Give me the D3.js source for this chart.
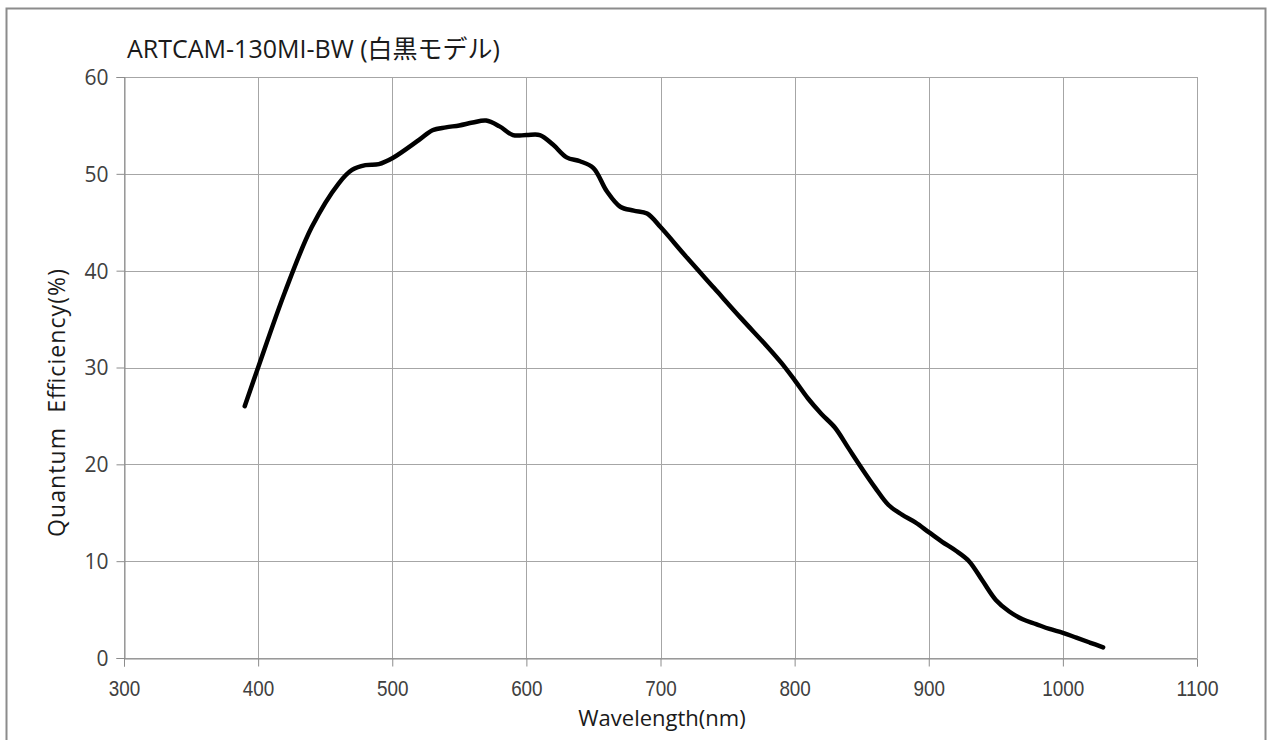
<!DOCTYPE html>
<html><head><meta charset="utf-8">
<script src="https://cdn.jsdelivr.net/npm/d3@7"></script>
<style>body{margin:0;background:#fff}svg{display:block}</style>
</head><body>
<svg id="c" width="1273" height="740"></svg>
<script>
const titleText = "ARTCAM-130MI-BW (白黒モデル)";
const xTitle = "Wavelength(nm)";
const yTitle = "Quantum  Efficiency(%)";
const xTicks = [300,400,500,600,700,800,900,1000,1100];
const yTicks = [0,10,20,30,40,50,60];
const wavelength = [390,400,420,440,460,470,480,490,500,520,530,540,550,560,570,580,590,600,610,620,630,640,650,660,670,680,690,700,720,740,760,780,790,800,810,820,830,840,850,860,870,880,890,900,910,920,930,940,950,960,970,980,990,1000,1010,1020,1030];
const qe = [26,30,37.8,44.5,49,50.4,50.9,51,51.6,53.5,54.5,54.8,55,55.3,55.5,54.9,54.0,54.0,54.0,53.0,51.7,51.3,50.6,48.2,46.6,46.2,45.9,44.5,41.3,38.2,35.1,32.1,30.5,28.7,26.8,25.2,23.8,21.7,19.6,17.6,15.8,14.8,14.0,13.0,12.0,11.1,10.0,8.0,6.0,4.8,4.0,3.5,3.0,2.6,2.1,1.6,1.1];

const svg = d3.select("#c");
const L=124, R=1197, T=77, B=658;
const x = d3.scaleLinear().domain([300,1100]).range([L,R]);
const y = d3.scaleLinear().domain([0,60]).range([B,T]);
const font = "'Open Sans', 'Noto Sans CJK JP', sans-serif";

svg.append("rect").attr("x",6.5).attr("y",8.5).attr("width",1259).attr("height",760)
  .attr("fill","none").attr("stroke","#8c8c8c").attr("stroke-width",2);

// grid
svg.append("g").selectAll("line").data(xTicks).join("line")
  .attr("x1",d=>Math.round(x(d))+0.5).attr("x2",d=>Math.round(x(d))+0.5)
  .attr("y1",T).attr("y2",B).attr("stroke","#a6a6a6").attr("stroke-width",1);
svg.append("g").selectAll("line").data(yTicks).join("line")
  .attr("y1",d=>Math.round(y(d))+0.5).attr("y2",d=>Math.round(y(d))+0.5)
  .attr("x1",L).attr("x2",R).attr("stroke","#a6a6a6").attr("stroke-width",1);

// axes
const xa = svg.append("g").attr("transform",`translate(0,${Math.round(y(0))+0.5})`)
  .call(d3.axisBottom(x).tickValues(xTicks).tickSize(8).tickPadding(14).tickFormat(d3.format("d")));
const ya = svg.append("g").attr("transform",`translate(${Math.round(x(300))+0.5},0)`)
  .call(d3.axisLeft(y).tickValues(yTicks).tickSize(8).tickPadding(8).tickFormat(d3.format("d")));
[xa,ya].forEach(a=>{
  a.select(".domain").attr("stroke","#8c8c8c");
  a.selectAll(".tick line").attr("stroke","#8c8c8c");
});
xa.selectAll("text").attr("font-family","'Liberation Sans',sans-serif")
  .attr("font-size",22).attr("fill","#404040")
  .attr("textLength",d=>String(d).length*10.5).attr("lengthAdjust","spacingAndGlyphs");
ya.selectAll("text").attr("font-family",font).attr("font-size",21).attr("fill","#404040")
  .attr("dy","0.35em");

// line
svg.append("path").datum(wavelength.map((w,i)=>[w,qe[i]]))
  .attr("d",d3.line().x(d=>x(d[0])).y(d=>y(d[1])).curve(d3.curveCatmullRom.alpha(0.5)))
  .attr("fill","none").attr("stroke","#000").attr("stroke-width",4.5)
  .attr("stroke-linecap","round").attr("stroke-linejoin","round");

// titles
svg.append("text").attr("x",127).attr("y",58).attr("font-family",font).attr("font-size",25)
  .attr("fill","#1a1a1a").text(titleText);
svg.append("text").attr("x",662).attr("y",726).attr("text-anchor","middle")
  .attr("font-family",font).attr("font-size",22).attr("fill","#1a1a1a").text(xTitle);
svg.append("text").attr("transform",`translate(65,403) rotate(-90)`).attr("text-anchor","middle")
  .attr("font-family",font).attr("font-size",23).attr("fill","#1a1a1a")
  .attr("textLength",268).attr("lengthAdjust","spacing")
  .style("white-space","pre").text(yTitle);
</script>
</body></html>
